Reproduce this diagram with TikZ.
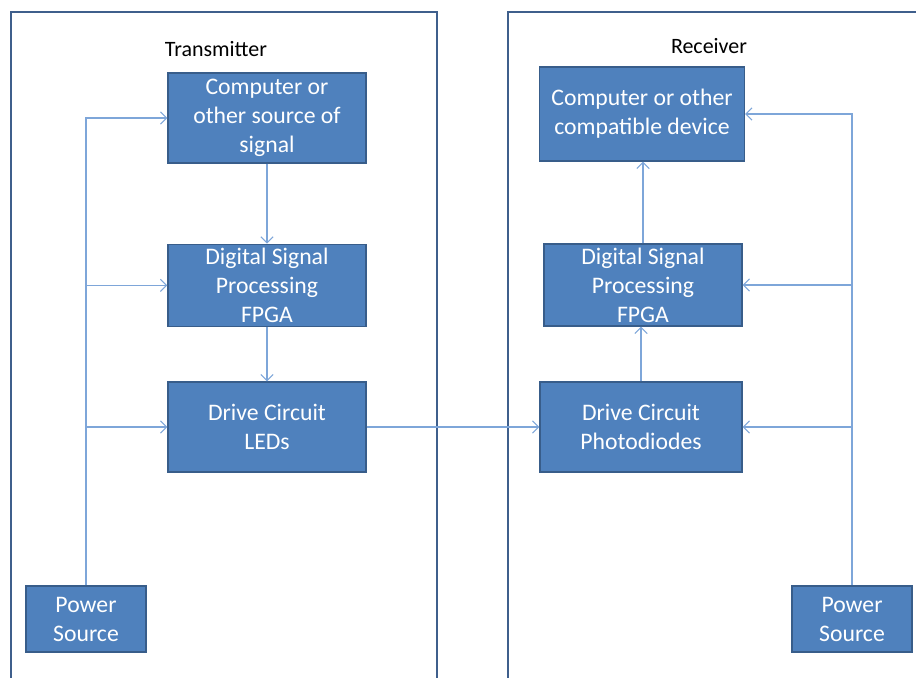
\documentclass[tikz,border=0pt]{standalone}
\usepackage{fontspec}
\setmainfont{Carlito}
\usepackage{xcolor}
\usetikzlibrary{arrows.meta, positioning}
\definecolor{boxblue}{HTML}{4F81BD}
\definecolor{boxedge}{HTML}{385D8A}
\definecolor{frameblue}{HTML}{3F5F8C}
\definecolor{wireblue}{HTML}{7EA6D9}
\tikzset{
  blk/.style={draw=boxedge, line width=0.8pt, fill=boxblue, text=white, align=center,
    inner sep=0pt, font=\fontsize{13.5}{16.5}\selectfont},
  wire/.style={draw=wireblue, line width=0.6pt, -{Straight Barb[length=3.5pt,width=7pt]}},
  frame/.style={draw=frameblue, line width=1.1pt},
  ttl/.style={font=\fontsize{12.5}{15}\selectfont, text=black}
}
\begin{document}
\begin{tikzpicture}[x=0.02cm, y=-0.02cm]
    \useasboundingbox (0,0) rectangle (916,677);
    % Rahmen fuer Sender und Empfaenger
    \draw[frame] (11,700) |- (437,12) -- (437,700);
    \draw[frame] (508,700) |- (940,12);
    \node[ttl] (txt) at (216,49) {Transmitter};
    \node[ttl] (rxt) at (709,46) {Receiver};

    % Sender
    \node[blk, minimum width=3.96cm, minimum height=1.8cm] (compL) at (267,118) {Computer or\\other source of\\signal};
    \node[blk, minimum width=3.96cm, minimum height=1.64cm, below=1.6cm of compL] (dspL) {Digital Signal\\Processing\\FPGA};
    \node[blk, minimum width=3.96cm, minimum height=1.8cm] (drvL) at (267,427) {Drive Circuit\\LEDs};
    \node[blk, minimum width=2.4cm, minimum height=1.32cm] (pwrL) at (86,619) {Power\\Source};

    % Empfaenger
    \node[blk, minimum width=4.1cm, minimum height=1.88cm] (compR) at (642,114) {Computer or other\\compatible device};
    \node[blk, minimum width=3.96cm, minimum height=1.64cm] (dspR) at (643,285) {Digital Signal\\Processing\\FPGA};
    \node[blk, minimum width=4.04cm, minimum height=1.8cm] (drvR) at (641,427) {Drive Circuit\\Photodiodes};
    \node[blk, minimum width=2.4cm, minimum height=1.32cm] (pwrR) at (852,619) {Power\\Source};

    % Signalfluss
    \draw[wire] (compL) -- (dspL);
    \draw[wire] (dspL) -- (drvL);
    \draw[wire] (drvL) -- (drvR);
    \draw[wire] (drvR.north) -- (drvR.north |- dspR.south);
    \draw[wire] (dspR) -- (dspR |- compR.south);

    % Versorgung
    \draw[wire] (pwrL.north) |- (compL.west);
    \draw[wire] (pwrL.north |- dspL.west) -- (dspL.west);
    \draw[wire] (pwrL.north |- drvL.west) -- (drvL.west);
    \draw[wire] (pwrR.north) |- (compR.east);
    \draw[wire] (pwrR.north |- dspR.east) -- (dspR.east);
    \draw[wire] (pwrR.north |- drvR.east) -- (drvR.east);
\end{tikzpicture}
\end{document}
